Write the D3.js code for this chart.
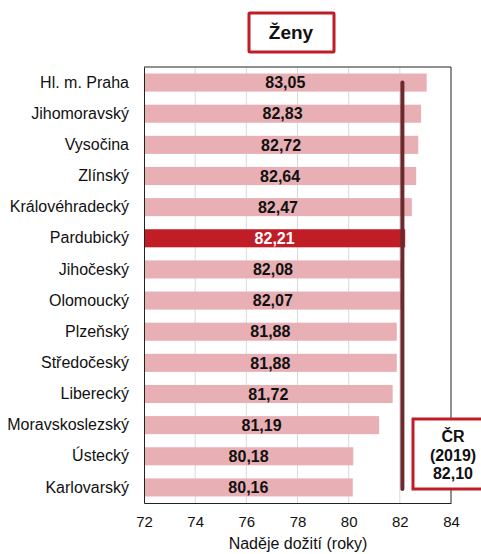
<!DOCTYPE html>
<html>
<head>
<meta charset="utf-8">
<script src="https://cdn.jsdelivr.net/npm/d3@7.9.0/dist/d3.min.js"></script>
<style>
  body { margin: 0; background: #fff; }
  svg { font-family: "Liberation Sans", Arial, sans-serif; display: block; }
</style>
</head>
<body>
<div id="chart"></div>
<script>
/* ---------- data --------- */
const regions = ['Hl. m. Praha', 'Jihomoravský', 'Vysočina', 'Zlínský', 'Královéhradecký',
  'Pardubický', 'Jihočeský', 'Olomoucký', 'Plzeňský', 'Středočeský', 'Liberecký',
  'Moravskoslezský', 'Ústecký', 'Karlovarský'];
const values = [83.05, 82.83, 82.72, 82.64, 82.47, 82.21, 82.08, 82.07, 81.88, 81.88,
  81.72, 81.19, 80.18, 80.16];
const highlight = 'Pardubický';
const crValue = 82.10;
const crLabel = ['ČR', '(2019)', '82,10'];
const xTicks = [72, 74, 76, 78, 80, 82, 84];
const title = 'Ženy';
const xTitle = 'Naděje dožití (roky)';

/* ---------- layout --------- */
const W = 481, H = 554;
const area = { l: 144, r: 451, t: 67, b: 503 };

const svg = d3.select('#chart').append('svg')
  .attr('width', W).attr('height', H);

const x = d3.scaleLinear().domain([72, 84]).range([area.l, area.r]);
const y = d3.scaleBand().domain(regions).range([area.t, area.b]).paddingInner(0.42).paddingOuter(0.21);

const fmt = v => d3.format('.2f')(v).replace('.', ',');

// gridlines
svg.append('g')
  .selectAll('line').data(xTicks.slice(1, -1)).join('line')
  .attr('x1', d => x(d)).attr('x2', d => x(d))
  .attr('y1', area.t).attr('y2', area.b)
  .attr('stroke', '#d9d9d9').attr('stroke-width', 1);

// frame
svg.append('path')
  .attr('d', `M${area.l},${area.t}H${area.r}V${area.b}`)
  .attr('fill', 'none').attr('stroke', '#222').attr('stroke-width', 1);

// bars
svg.append('g').selectAll('rect').data(regions).join('rect')
  .attr('x', x(72))
  .attr('y', d => y(d))
  .attr('width', (d, i) => x(values[i]) - x(72))
  .attr('height', y.bandwidth())
  .attr('fill', d => d === highlight ? '#c01d26' : '#e8b0b4');

// value labels
svg.append('g').selectAll('text').data(regions).join('text')
  .attr('x', (d, i) => (x(72) + x(values[i])) / 2)
  .attr('y', d => y(d) + y.bandwidth() / 2)
  .attr('dy', '0.36em')
  .attr('text-anchor', 'middle')
  .attr('font-size', 16).attr('font-weight', 'bold')
  .attr('fill', d => d === highlight ? '#fff' : '#111')
  .text((d, i) => fmt(values[i]));

// x axis
const xAxis = svg.append('g')
  .attr('transform', `translate(0,${area.b})`)
  .call(d3.axisBottom(x).tickValues(xTicks).tickSize(0).tickPadding(13).tickFormat(d3.format('d')));
xAxis.select('.domain').attr('stroke', '#222');
xAxis.selectAll('text').attr('font-size', 15).attr('fill', '#111')
  .attr('font-family', '"Liberation Sans", Arial, sans-serif');

// y axis
const yAxis = svg.append('g')
  .attr('transform', `translate(${area.l},0)`)
  .call(d3.axisLeft(y).tickSize(0).tickPadding(15));
yAxis.select('.domain').attr('stroke', '#222');
yAxis.selectAll('text').attr('font-size', 16).attr('fill', '#111')
  .attr('font-family', '"Liberation Sans", Arial, sans-serif');

// CR line
svg.append('line')
  .attr('x1', x(crValue)).attr('x2', x(crValue))
  .attr('y1', y(regions[0]) + y.bandwidth() / 2)
  .attr('y2', 489)
  .attr('stroke', '#6b2a2e').attr('stroke-width', 4).attr('stroke-linecap', 'round');

// CR box
svg.append('rect')
  .attr('x', 413).attr('y', 419).attr('width', 78).attr('height', 70)
  .attr('fill', '#fff').attr('stroke', '#c01d26').attr('stroke-width', 3);
svg.append('text')
  .attr('x', 453).attr('y', 442)
  .attr('text-anchor', 'middle').attr('font-size', 16).attr('font-weight', 'bold').attr('fill', '#111')
  .selectAll('tspan').data(crLabel).join('tspan')
  .attr('x', 453).attr('dy', (d, i) => i ? 18.5 : 0)
  .text(d => d);

// title box
svg.append('rect')
  .attr('x', 249).attr('y', 13).attr('width', 85).attr('height', 39)
  .attr('fill', '#fff').attr('stroke', '#c01d26').attr('stroke-width', 3).attr('rx', 1);
svg.append('text')
  .attr('x', 291).attr('y', 39)
  .attr('text-anchor', 'middle').attr('font-size', 19).attr('font-weight', 'bold').attr('fill', '#111')
  .text(title);

// x title
svg.append('text')
  .attr('x', 298).attr('y', 549)
  .attr('text-anchor', 'middle').attr('font-size', 16).attr('fill', '#111')
  .text(xTitle);
</script>
</body>
</html>
